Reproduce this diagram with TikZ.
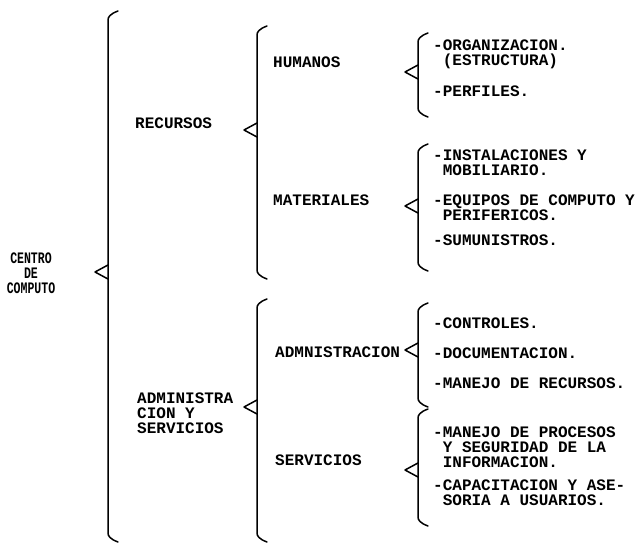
\documentclass[tikz,border=0pt]{standalone}
\usepackage{fontspec}
\setmonofont{Liberation Mono}
\usetikzlibrary{calc}
\tikzset{
 bracestyle/.style={line width=1.5pt, line cap=round, line join=round},
 mono/.style={font=\ttfamily\bfseries\fontsize{16pt}{15pt}\selectfont, anchor=west, inner sep=0pt, align=left},
 centrostyle/.style={font=\ttfamily\bfseries\fontsize{16pt}{15pt}\selectfont, align=center, inner sep=0pt, transform shape}
}
\newcommand\kbrace[5]{%
 \coordinate (#1t) at (#2,#3);
 \coordinate (#1b) at (#2,#4);
 \coordinate (#1p) at (#2-13,#5);
 \coordinate (#1u) at (#2,#5-7);
 \coordinate (#1d) at (#2,#5+7);
 \draw[bracestyle] ($(#1t)+(10,-9)$) .. controls ($(#1t)+(2,-6)$) and ($(#1t)+(0,-3)$) .. (#1t) -- (#1b) .. controls ($(#1b)+(0,3)$) and ($(#1b)+(2,6)$) .. ($(#1b)+(10,9)$);
 \draw[bracestyle] (#1u) -- (#1p) -- (#1d);
}
\begin{document}
\begin{tikzpicture}[x=1pt,y=-1pt]
\useasboundingbox[fill=white] (0,0) rectangle (641,543);
% braces
\kbrace{B1}{108}{20}{533}{272}
\kbrace{B2}{257}{35}{270}{130}
\kbrace{B3}{257}{308}{533}{407}
\kbrace{Bh}{418}{42}{108}{72}
\kbrace{Bm}{418}{153}{262}{206}
\kbrace{Ba}{418}{312}{398}{350}
\kbrace{Bs}{418}{418}{517}{470}
% root
\begin{scope}[shift={(31,273)}, xscale=0.72]
\node[centrostyle] (centro) at (0,0) {CENTRO\\DE\\COMPUTO};
\end{scope}
% level 1
\node[mono] (recursos) at (135,123) {RECURSOS};
\node[mono] (admserv) at (137,413) {ADMINISTRA\\CION Y\\SERVICIOS};
% level 2
\node[mono] (humanos) at (273,62) {HUMANOS};
\node[mono] (materiales) at (273,200) {MATERIALES};
\node[mono] (admin) at (275,352) {ADMNISTRACION};
\node[mono] (servicios) at (275,460) {SERVICIOS};
% level 3
\node[mono] (org) at (433,54.5) {-ORGANIZACION.\\\phantom{-}(ESTRUCTURA)};
\node[mono] (perf) at (433,91) {-PERFILES.};
\node[mono] (inst) at (433,162.5) {-INSTALACIONES Y\\\phantom{-}MOBILIARIO.};
\node[mono] (equip) at (433,207.5) {-EQUIPOS DE COMPUTO Y\\\phantom{-}PERIFERICOS.};
\node[mono] (sum) at (433,240) {-SUMUNISTROS.};
\node[mono] (ctrl) at (433,323) {-CONTROLES.};
\node[mono] (doc) at (433,353) {-DOCUMENTACION.};
\node[mono] (manrec) at (433,383) {-MANEJO DE RECURSOS.};
\node[mono] (manproc) at (433,447) {-MANEJO DE PROCESOS\\\phantom{-}Y SEGURIDAD DE LA\\\phantom{-}INFORMACION.};
\node[mono] (capac) at (433,492.5) {-CAPACITACION Y ASE-\\\phantom{-}SORIA A USUARIOS.};
\end{tikzpicture}
\end{document}
